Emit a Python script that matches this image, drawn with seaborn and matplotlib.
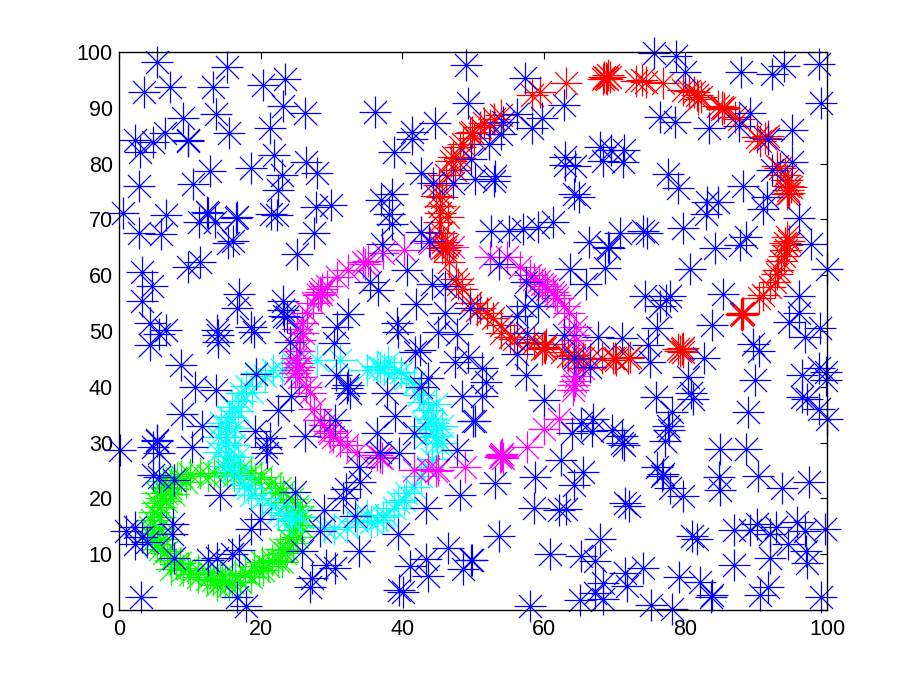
import pandas as pd
import matplotlib
import matplotlib.pyplot as plt
import seaborn as sns
from matplotlib.path import Path

matplotlib.use('agg')

# Points (x, y)
blue_points = [
    (5.3, 98.2), (15.2, 97.4), (49.0, 97.7), (7.2, 93.8), (3.6, 92.9), (13.3, 93.8), (20.3, 94.0),
    (23.5, 95.1), (23.1, 90.3), (26.3, 89.0), (36.2, 89.2), (49.3, 90.9), (9.0, 88.2), (13.7, 88.8),
    (21.3, 86.3), (15.5, 85.4), (6.5, 85.4), (4.8, 83.9), (2.3, 84.3), (2.9, 82.0), (9.8, 84.2),
    (9.7, 84.0), (41.4, 85.6), (41.4, 84.4), (44.6, 87.2), (38.9, 82.0), (21.9, 81.5), (26.4, 80.2),
    (28.0, 78.4), (23.0, 78.0), (22.4, 75.3), (18.6, 79.2), (12.9, 78.6), (10.4, 76.3), (2.8, 76.0),
    (42.6, 78.3), (44.3, 76.6), (47.2, 76.6), (49.7, 80.9), (38.5, 74.6), (37.0, 73.4), (38.1, 71.0),
    (38.5, 69.2), (27.8, 72.3), (29.9, 72.6), (27.6, 67.5), (25.2, 63.8), (22.3, 70.8), (21.4, 70.9),
    (16.6, 70.4), (16.5, 70.2), (12.4, 71.4), (12.5, 71.1), (11.3, 69.6), (13.6, 69.6), (6.6, 70.8),
    (0.5, 71.2), (2.8, 67.5), (5.9, 67.4), (16.1, 66.1), (15.4, 65.7), (42.6, 67.8), (43.8, 66.1),
    (37.1, 65.6), (40.7, 60.9), (44.2, 58.5), (46.1, 58.1), (42.0, 54.8), (35.5, 58.8), (36.6, 57.3),
    (32.4, 53.0), (39.3, 51.5), (46.1, 53.3), (49.6, 54.1), (30.8, 50.7), (11.4, 62.3), (9.7, 61.4),
    (3.3, 60.5), (4.6, 58.1), (3.2, 55.3), (17.0, 56.7), (16.7, 54.1), (23.2, 55.3), (23.1, 53.8),
    (23.3, 52.6), (23.7, 52.5), (4.4, 51.5), (6.6, 50.2), (18.6, 50.8), (13.8, 50.2),
    # upper right
    (75.5, 99.8), (78.7, 99.2), (80.0, 96.4), (87.9, 96.4), (92.3, 96.0), (93.9, 97.5), (98.9, 97.9),
    (99.1, 90.9), (57.3, 95.4), (62.8, 90.5), (59.8, 88.1), (58.3, 86.4), (56.2, 88.9), (54.2, 87.4),
    (54.0, 85.3), (52.3, 83.6), (76.4, 88.4), (78.5, 87.5), (83.3, 86.3), (87.5, 86.8), (89.1, 89.1),
    (91.6, 84.4), (95.1, 86.0), (95.0, 80.3), (92.3, 78.9), (63.0, 81.1), (63.0, 79.7), (64.4, 79.6),
    (68.0, 83.0), (69.5, 82.4), (71.3, 82.4), (68.3, 80.5), (71.2, 80.2), (77.6, 78.1), (79.0, 75.7),
    (88.2, 76.0), (91.5, 74.0), (90.9, 71.8), (83.1, 73.1), (84.6, 73.1), (82.9, 71.0), (96.0, 70.2),
    (97.8, 65.6), (100.0, 61.1), (53.1, 77.7), (52.9, 76.9), (50.3, 77.2), (64.2, 74.6), (65.0, 74.1),
    (61.3, 69.6), (59.2, 68.7), (57.0, 68.2), (55.1, 68.0), (52.6, 67.9), (66.4, 65.9), (69.1, 65.1),
    (69.2, 64.9), (70.8, 67.5), (74.0, 68.0), (74.6, 67.6), (79.6, 68.4), (84.2, 64.8), (87.7, 65.4),
    (88.5, 66.8), (80.7, 61.1), (68.6, 61.3), (63.7, 61.2), (65.9, 58.4), (53.7, 62.0), (57.5, 58.8),
    (74.3, 56.3), (77.8, 56.2), (76.4, 54.5), (77.3, 55.6), (85.3, 56.6), (96.0, 56.3), (96.1, 53.2),
    (94.6, 51.7), (83.7, 51.1), (99.0, 50.5), (76.0, 50.5), (59.2, 54.5), (57.3, 54.5), (56.2, 52.7),
    # lower left
    (5.7, 49.5), (4.4, 47.5), (14.0, 49.3), (14.0, 48.1), (19.0, 49.9), (8.8, 43.9), (10.7, 40.0),
    (13.7, 39.4), (8.9, 35.2), (11.7, 32.9), (10.3, 29.2), (5.3, 30.5), (5.4, 30.2), (4.8, 29.3),
    (5.6, 28.1), (0.2, 28.7), (4.8, 24.2), (5.6, 23.9), (7.8, 23.3), (14.3, 20.6), (7.6, 15.5),
    (7.5, 13.6), (2.3, 14.8), (1.0, 14.2), (2.2, 11.9), (3.2, 13.1), (3.9, 12.1), (7.8, 9.4),
    (12.6, 9.0), (13.8, 9.3), (15.9, 10.0), (16.9, 10.8), (3.1, 2.4), (16.7, 2.4), (18.0, 0.7),
    (27.0, 4.2), (27.2, 5.8), (29.3, 8.1), (30.5, 7.6), (25.9, 10.6), (33.9, 10.6), (28.4, 14.2),
    (19.9, 16.3), (18.6, 14.5), (24.9, 21.2), (28.9, 18.0), (31.7, 20.0), (32.0, 21.6), (33.4, 16.9),
    (34.0, 23.0), (33.9, 25.7), (36.8, 28.4), (39.6, 28.2), (36.4, 31.7), (39.0, 34.8), (41.6, 31.7),
    (37.8, 38.9), (42.7, 40.0), (43.7, 41.5), (48.4, 38.4), (47.7, 28.7), (50.0, 33.9), (48.2, 20.6),
    (43.4, 18.2), (39.4, 13.6), (46.5, 11.1), (43.4, 9.1), (41.1, 7.9), (43.7, 6.1), (48.6, 7.3),
    (49.7, 9.0), (39.5, 3.6), (40.1, 3.3), (19.2, 32.1), (21.3, 30.8), (20.7, 29.2), (20.9, 28.1),
    (26.3, 31.2), (22.5, 35.8), (24.3, 38.4), (19.4, 42.3), (30.5, 34.0), (30.7, 42.1), (32.4, 40.3),
    (32.6, 38.8), (32.2, 39.7), (24.1, 48.1), (30.4, 47.9), (41.8, 46.3), (42.5, 46.6), (45.0, 49.9),
    (47.8, 49.5), (47.5, 44.5), (49.3, 45.4), (39.4, 49.9),
    # lower right
    (51.3, 43.4), (51.9, 40.9), (51.3, 38.4), (50.3, 33.9), (57.6, 49.6), (56.2, 45.9), (57.5, 42.2),
    (60.0, 37.6), (53.1, 22.8), (58.7, 23.8), (62.4, 26.8), (65.6, 24.7), (64.2, 22.4), (58.6, 18.3),
    (62.1, 17.9), (63.2, 18.1), (53.7, 13.3), (49.8, 9.0), (60.9, 10.0), (65.3, 9.7), (67.2, 8.8),
    (67.9, 12.8), (58.0, 0.8), (65.1, 1.8), (67.2, 3.1), (68.4, 4.8), (68.4, 1.9), (71.4, 6.7),
    (71.7, 4.3), (74.0, 7.6), (75.2, 0.9), (78.1, 0.1), (79.1, 6.0), (82.0, 5.0), (83.7, 2.6),
    (83.6, 2.3), (86.9, 8.1), (91.9, 9.4), (91.7, 4.2), (90.5, 2.7), (97.1, 10.5), (97.2, 8.5),
    (94.5, 11.8), (99.1, 2.4), (80.9, 13.3), (81.7, 12.7), (86.9, 14.3), (89.1, 14.3), (90.1, 15.4),
    (92.0, 13.6), (92.8, 14.9), (95.8, 15.7), (96.9, 14.2), (99.7, 14.6), (71.5, 19.1), (72.1, 18.6),
    (79.7, 20.5), (77.8, 21.8), (76.8, 24.4), (76.0, 25.6), (76.7, 24.1), (84.9, 28.8), (88.6, 28.8),
    (90.3, 24.1), (84.8, 23.9), (84.9, 21.5), (93.7, 21.9), (97.5, 22.9), (88.9, 35.4), (89.8, 41.2),
    (96.4, 42.1), (98.8, 43.3), (99.9, 42.7), (99.9, 41.2), (96.4, 38.2), (97.2, 37.9), (98.8, 36.0),
    (100.0, 34.3), (75.9, 38.1), (78.1, 35.4), (77.6, 32.9), (77.7, 32.3), (77.1, 30.3), (80.3, 41.8),
    (80.8, 38.8), (81.1, 37.8), (82.6, 45.1), (89.6, 47.7), (90.4, 46.5), (96.9, 48.9), (67.0, 34.3),
    (65.2, 33.5), (66.8, 32.1), (64.0, 31.8), (69.7, 32.3), (71.1, 31.2), (71.1, 29.9), (71.3, 29.6),
    (64.2, 45.1), (66.5, 43.6), (67.7, 48.9), (71.0, 48.7), (75.0, 44.5), (74.7, 47.5), (62.8, 49.3),
]

red_points = [
    (88.0, 53.2), (88.1, 53.0), (87.9, 53.1), (88.2, 53.3), (88.0, 52.9),
    (90.4, 56.0), (90.9, 56.5), (92.0, 57.8), (92.7, 58.8), (93.0, 60.3), (93.1, 60.9), (93.5, 62.5),
    (93.9, 63.4), (94.2, 64.5), (94.4, 65.4), (94.6, 66.2), (94.3, 66.9), (94.0, 65.8),
    (93.0, 79.6), (93.3, 79.2), (94.0, 78.0), (94.3, 77.0), (94.5, 76.0), (94.5, 75.3), (94.7, 74.7),
    (94.9, 75.8), (94.3, 74.6), (91.6, 84.9), (91.3, 84.5), (90.6, 84.0), (90.1, 84.8), (87.5, 88.0),
    (87.0, 88.3), (85.5, 90.0), (85.1, 90.2), (84.6, 90.4), (85.2, 89.8), (82.2, 92.0), (81.6, 92.3),
    (81.2, 92.8), (81.8, 91.6), (80.5, 93.0), (79.7, 93.2), (76.9, 94.4), (74.5, 94.6), (73.8, 94.9),
    (73.0, 94.8), (68.5, 95.6), (68.8, 95.4), (69.1, 95.8), (68.9, 95.1), (69.4, 95.5), (68.3, 95.2),
    (63.2, 94.5), (59.5, 92.9), (58.4, 92.3), (54.0, 88.7), (53.0, 88.0), (51.5, 87.2), (51.0, 86.5),
    (49.8, 85.7), (49.6, 85.4), (48.2, 83.0), (48.6, 83.6), (47.2, 81.2), (46.9, 80.5), (46.2, 78.0),
    (45.6, 74.1), (45.3, 72.4), (45.3, 71.1), (45.2, 69.5), (45.5, 67.5), (45.7, 66.0), (46.0, 65.1),
    (45.6, 64.8), (46.3, 65.5), (46.0, 64.6), (47.9, 58.5), (48.4, 57.6), (49.6, 55.0), (51.0, 54.1),
    (52.0, 53.3), (54.0, 51.1), (54.0, 49.6), (55.2, 49.0), (57.6, 47.8), (60.0, 47.2), (60.3, 47.6),
    (59.7, 46.8), (60.2, 46.9), (62.5, 46.2), (64.2, 45.7), (65.5, 45.2), (66.5, 45.0), (69.8, 45.1),
    (70.0, 45.1), (70.2, 44.8), (71.9, 45.1), (72.2, 45.3), (79.5, 46.8), (79.2, 46.5), (79.7, 46.2),
    (78.9, 46.8), (79.6, 47.0),
    (44.8, 74.2), (46.4, 70.5), (45.2, 76.2), (47.4, 78.8), (48.2, 81.0), (50.2, 84.6), (52.4, 87.0),
    (46.6, 62.4), (47.6, 59.4), (50.6, 53.8), (52.8, 52.4), (55.8, 48.6), (58.6, 48.0), (63.4, 45.6),
    (68.2, 45.2),
]

magenta_points = [
    (28.4, 57.0), (28.7, 57.6), (28.1, 56.5), (28.6, 56.7), (30.8, 59.6), (34.5, 62.4), (34.8, 62.0),
    (35.1, 62.6), (37.3, 63.9), (40.2, 64.6), (43.9, 65.7), (47.2, 65.1), (25.8, 51.4), (25.2, 50.3),
    (26.0, 49.6), (25.6, 48.4), (25.1, 43.0), (25.4, 43.6), (24.8, 42.4), (25.2, 44.2), (25.4, 41.8),
    (25.0, 45.2), (27.0, 38.8), (27.6, 36.0), (28.4, 34.0), (29.6, 32.0), (29.8, 31.7), (30.2, 31.0),
    (32.2, 29.6), (33.6, 28.4), (36.5, 27.8), (36.8, 27.5), (37.2, 27.2), (41.6, 25.1), (43.7, 25.2),
    (45.1, 25.1), (44.8, 25.0), (48.9, 25.7), (54.0, 27.6), (54.2, 27.3), (53.8, 27.4), (54.1, 27.9),
    (53.9, 27.7), (57.6, 29.2), (60.0, 32.4), (62.1, 34.3), (64.3, 40.3), (64.1, 39.5), (64.4, 41.0),
    (64.5, 42.0), (65.6, 43.3), (64.9, 45.0), (64.6, 48.4), (64.3, 49.3), (52.4, 63.3), (54.8, 63.3),
    (56.6, 61.5), (58.0, 60.0), (59.7, 58.5), (60.1, 58.0), (59.3, 58.9), (60.5, 57.6), (61.6, 56.5),
    (61.3, 56.9), (61.9, 56.0), (63.5, 53.2), (64.6, 50.8),
    (25.4, 46.4), (26.6, 53.2), (27.4, 55.0), (29.4, 58.0), (32.4, 61.0), (26.4, 40.0), (28.9, 33.2),
    (31.2, 30.2), (58.6, 59.4), (62.8, 54.4),
]

cyan_points = [
    (19.4, 42.4), (21.8, 43.0), (24.6, 44.2), (27.9, 44.8), (31.2, 44.8), (36.5, 43.8), (36.9, 43.6),
    (37.4, 43.2), (38.8, 42.4), (40.6, 41.5), (42.4, 38.6), (43.0, 37.3), (43.6, 35.8), (44.1, 34.2),
    (44.4, 33.5), (44.7, 32.5), (44.8, 31.2), (44.9, 29.9), (44.2, 27.0), (43.7, 25.7), (41.6, 22.1),
    (40.2, 19.7), (38.8, 18.2), (37.7, 17.0), (37.3, 16.7), (36.5, 16.2), (35.6, 15.8), (32.2, 14.9),
    (30.4, 14.6), (28.9, 14.9), (24.4, 16.0), (23.9, 16.4), (23.4, 17.0), (21.5, 18.8), (18.7, 20.6),
    (18.2, 21.8), (16.9, 24.0), (16.1, 25.1), (15.8, 25.8), (15.4, 27.6), (15.0, 29.9), (15.1, 31.0),
    (15.2, 32.9), (15.5, 34.5), (15.9, 36.4), (17.3, 38.8), (18.0, 40.2),
    (17.2, 37.4), (18.8, 39.0), (20.6, 42.0), (23.0, 43.0), (35.0, 43.0), (38.0, 44.4), (39.8, 42.6),
    (41.6, 40.6), (44.8, 37.0), (43.2, 33.0), (45.6, 33.0), (43.4, 31.0), (45.6, 30.0), (42.6, 24.0),
    (40.6, 21.0), (39.4, 19.4), (35.0, 17.0), (33.6, 16.0), (25.4, 16.6), (22.4, 17.6), (20.2, 20.0),
    (17.6, 22.4), (15.0, 25.8), (16.8, 27.4), (14.0, 28.4), (16.2, 29.6), (14.0, 31.0), (16.4, 32.6),
    (14.4, 33.6), (16.8, 35.6),
]

green_points = [
    (7.8, 23.3), (7.4, 22.6), (8.2, 23.6), (10.0, 24.3), (11.4, 24.5), (13.4, 24.6), (15.2, 24.8),
    (17.1, 25.1), (18.6, 24.6), (20.0, 23.9), (21.4, 22.8), (22.7, 21.8), (23.2, 21.2), (24.4, 19.9),
    (25.2, 18.6), (25.6, 17.9), (25.8, 16.6), (25.6, 15.2), (25.1, 13.1), (24.6, 12.0), (23.7, 10.8),
    (23.4, 10.2), (22.4, 8.8), (21.0, 7.8), (20.4, 7.2), (19.8, 6.9), (18.6, 5.9), (17.1, 5.1),
    (16.0, 5.0), (15.0, 5.0), (14.2, 5.2), (13.3, 5.4), (12.4, 5.6), (11.2, 6.0), (10.0, 6.4),
    (9.0, 7.2), (8.0, 8.2), (7.2, 9.0), (6.4, 10.2), (5.8, 11.0), (5.3, 11.9), (5.0, 12.8),
    (4.6, 13.8), (4.4, 14.9), (4.6, 16.2), (4.9, 17.6), (5.3, 19.1), (5.9, 20.0), (6.7, 20.9),
    (7.2, 21.8),
    (6.5, 22.0), (8.8, 24.0), (9.4, 23.0), (12.6, 24.0), (16.2, 24.2), (19.2, 23.4), (22.0, 21.0),
    (23.6, 19.4), (24.8, 16.8), (24.6, 14.4), (24.0, 12.8), (22.8, 11.0), (23.0, 8.6), (21.6, 9.0),
    (20.2, 8.6), (19.0, 7.8), (17.8, 6.6), (16.4, 6.2), (15.6, 4.4), (14.6, 6.2), (13.8, 4.4),
    (12.8, 6.6), (11.2, 7.2), (9.8, 7.6), (8.6, 8.4), (7.4, 7.4), (6.8, 10.6), (6.2, 12.8),
    (5.6, 14.6), (5.8, 16.6), (6.0, 18.4), (6.6, 19.6), (7.6, 20.8), (6.2, 23.2), (5.4, 21.0),
]

x_ticks = [0, 20, 40, 60, 80, 100]
y_ticks = [0, 10, 20, 30, 40, 50, 60, 70, 80, 90, 100]

sns.set_style('white')
plt.rcParams['font.family'] = ['Liberation Sans', 'DejaVu Sans']

# Matlab style asterisk, eight arms
d = 0.72
star = Path(
    [(-1, 0), (1, 0), (0, -1), (0, 1), (-d, -d), (d, d), (-d, d), (d, -d)],
    [Path.MOVETO, Path.LINETO] * 4,
)

fig = plt.figure(figsize=(9.13, 6.87), dpi=100)
ax = fig.add_axes([119 / 913, 1 - 610 / 687, 708 / 913, 558 / 687])

# Rings first, blue on top
layers = [
    (green_points, '#00ff00'),
    (cyan_points, '#00ffff'),
    (magenta_points, '#ff00ff'),
    (red_points, '#ff0000'),
    (blue_points, '#0000ff'),
]
for points, col in layers:
    dt = pd.DataFrame(points, columns=['x', 'y'])
    sns.scatterplot(data=dt, x='x', y='y', ax=ax, marker=star, s=530, color=col,
                    edgecolor=col, linewidth=0.9, alpha=1, clip_on=False, legend=False)

ax.set_xlim(0, 100)
ax.set_ylim(0, 100)
ax.set_xticks(x_ticks)
ax.set_yticks(y_ticks)
ax.set_xlabel('')
ax.set_ylabel('')
ax.tick_params(direction='in', length=5, width=0.8, top=True, right=True, color='black',
               labelsize=15.5, labelcolor='black')
ax.tick_params(axis='x', pad=6.5)
ax.tick_params(axis='y', pad=4.5)
for spine in ax.spines.values():
    spine.set_color('black')
    spine.set_linewidth(1.0)

fig.savefig('out.png', dpi=100, facecolor='white')
plt.close(fig)
